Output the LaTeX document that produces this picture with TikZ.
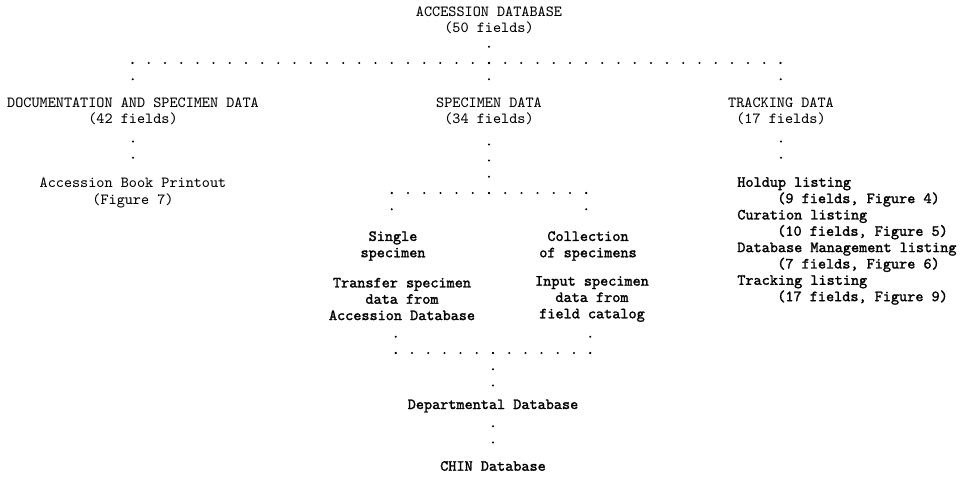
\documentclass[tikz,border=0pt]{standalone}
\usepackage{fontspec}
\usepackage{xcolor}
\usepackage{tikz}
\usetikzlibrary{positioning}

\newfontfamily\heavytt{lmmono10-regular.otf}[FakeBold=1.6]

\tikzset{
  lbl/.style={font=\fontsize{8.8}{9.3}\selectfont\ttfamily, inner sep=0pt, align=center},
  heavy/.style={lbl, font=\fontsize{8.8}{9.3}\selectfont\heavytt},
  dots/.style={line width=0.45mm, line cap=round, dash pattern=on 0pt off 3.24mm, shorten >=1.2mm},
  dotrow/.style={dots, shorten >=-0.3mm}
}

\begin{document}
\begin{tikzpicture}[x=0.02cm, y=-0.02cm]
        \useasboundingbox (0,0) rectangle (967,490);
        \node[lbl] (acc) at (489,20.5) {ACCESSION DATABASE\\(50 fields)};
        \node[lbl] (docu) at (133,111) {DOCUMENTATION AND SPECIMEN DATA\\(42 fields)};
        \node[lbl] (spec) at (489,111) {SPECIMEN DATA\\(34 fields)};
        \node[lbl] (track) at (781,111) {TRACKING DATA\\(17 fields)};
        \node[lbl] (book) at (133,193) {Accession Book Printout\\(Figure 7)};
        \node[heavy] (single) at (393,246) {Single\\specimen};
        \node[heavy] (coll) at (588,246) {Collection\\of specimens};
        \node[heavy] (transfer) at (402,299) {Transfer specimen\\data from\\Accession Database};
        \node[heavy] (input) at (592,299) {Input specimen\\data from\\field catalog};
        \node[heavy] (dept) at (493,406) {Departmental Database};
        \node[heavy] (chin) at (493,466) {CHIN Database};
        \node[heavy, align=left, anchor=west] (lists) at (737,241)
            {Holdup listing\\\hspace*{8mm}(9 fields, Figure 4)\\
             Curation listing\\\hspace*{8mm}(10 fields, Figure 5)\\
             Database Management listing\\\hspace*{8mm}(7 fields, Figure 6)\\
             Tracking listing\\\hspace*{8mm}(17 fields, Figure 9)};
%
        \coordinate (jL) at (132.6,63);
        \coordinate (jM) at (489,63);
        \coordinate (jR) at (780.6,63);
        \coordinate (jS) at (489,193);
        \coordinate (jSL) at (391.8,193);
        \coordinate (jSR) at (586.2,193);
        \coordinate (jBL) at (395.8,353);
        \coordinate (jBM) at (493,353);
        \coordinate (jBR) at (590.2,353);
%
        \draw[dots] (jM) -- (acc.south);
        \draw[dotrow] (jL) -- (jR);
        \draw[dots] (jL) -- (docu.north);
        \draw[dots] (jM) -- (spec.north);
        \draw[dots] (jR) -- (track.north);
        \draw[dots, shorten <=3.3mm] (docu.south) -- (book.north);
        \draw[dots, shorten <=3.3mm] (track.south) -- (track.south |- lists.north);
        \draw[dots] (jS) -- (spec.south);
        \draw[dotrow] (jSL) -- (jSR);
        \draw[dots] (jSL) -- (single.north -| jSL);
        \draw[dots] (jSR) -- (coll.north -| jSR);
        \draw[dots] (jBL) -- (transfer.south -| jBL);
        \draw[dots] (jBR) -- (input.south -| jBR);
        \draw[dotrow] (jBL) -- (jBR);
        \draw[dots] (jBM) -- (dept.north);
        \draw[dots, shorten <=2.7mm] (dept.south) -- (chin.north);
\end{tikzpicture}
\end{document}
